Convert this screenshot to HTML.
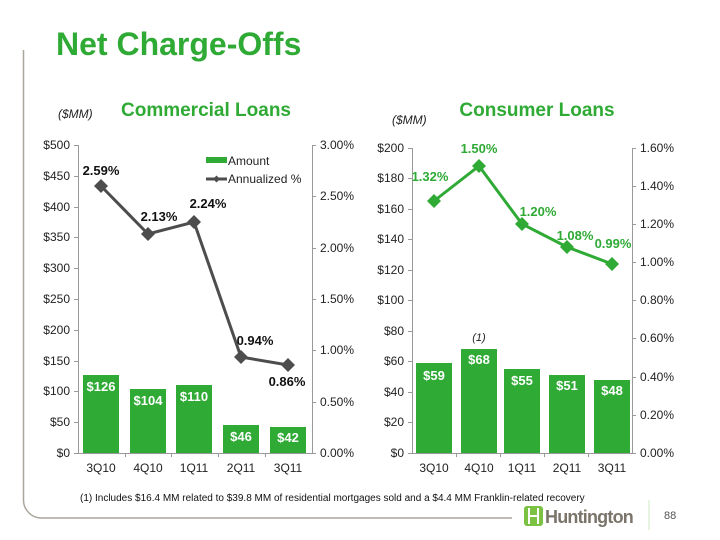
<!DOCTYPE html>
<html><head><style>
body{margin:0;width:720px;height:540px;background:#fff;overflow:hidden}
svg{display:block;font-family:"Liberation Sans",Arial,sans-serif}
</style></head><body>
<svg width="720" height="540" viewBox="0 0 720 540">
<path d="M23.5 50 V500 a18 18 0 0 0 18 18 H512" fill="none" stroke="#aaa69c" stroke-width="1.5"/>
<text x="56" y="55" font-size="32" font-weight="bold" fill="#2eaa35">Net Charge-Offs</text>
<text x="58" y="118" font-size="12" font-style="italic" fill="#222">($MM)</text>
<text x="206" y="116" font-size="19" font-weight="bold" fill="#2eaa35" text-anchor="middle">Commercial Loans</text>
<text x="392" y="124" font-size="12" font-style="italic" fill="#222">($MM)</text>
<text x="537" y="116" font-size="19" font-weight="bold" fill="#2eaa35" text-anchor="middle">Consumer Loans</text>

<g stroke="#999" stroke-width="1" fill="none">
<path d="M78.5 145 V453.5 H312.5 V145"/>
<path d="M74 145.5h4M74 176.5h4M74 207.5h4M74 237.5h4M74 268.5h4M74 299.5h4M74 330.5h4M74 361.5h4M74 391.5h4M74 422.5h4M74 453.5h4"/>
<path d="M312 145.5h4M312 196.5h4M312 248.5h4M312 299.5h4M312 350.5h4M312 402.5h4M312 453.5h4"/>
<path d="M125.5 453v4M171.5 453v4M218.5 453v4M265.5 453v4"/>
</g>
<g font-size="12" fill="#222" text-anchor="end">
<text x="70" y="149">$500</text><text x="70" y="180">$450</text><text x="70" y="211">$400</text><text x="70" y="241">$350</text><text x="70" y="272">$300</text><text x="70" y="303">$250</text><text x="70" y="334">$200</text><text x="70" y="365">$150</text><text x="70" y="395">$100</text><text x="70" y="426">$50</text><text x="70" y="457">$0</text>
</g>
<g font-size="12" fill="#222">
<text x="320" y="149">3.00%</text><text x="320" y="200">2.50%</text><text x="320" y="252">2.00%</text><text x="320" y="303">1.50%</text><text x="320" y="354">1.00%</text><text x="320" y="406">0.50%</text><text x="320" y="457">0.00%</text>
</g>
<g font-size="12" fill="#222" text-anchor="middle">
<text x="101" y="472">3Q10</text><text x="148" y="472">4Q10</text><text x="194" y="472">1Q11</text><text x="241" y="472">2Q11</text><text x="288" y="472">3Q11</text>
</g>
<g fill="#2eaa35">
<rect x="83" y="375" width="36" height="78"/><rect x="130" y="389" width="36" height="64"/><rect x="176" y="385" width="36" height="68"/><rect x="223" y="425" width="36" height="28"/><rect x="270" y="427" width="36" height="26"/>
</g>
<g font-size="13" font-weight="bold" fill="#fff" text-anchor="middle">
<text x="101" y="391">$126</text><text x="148" y="405">$104</text><text x="194" y="401">$110</text><text x="241" y="441">$46</text><text x="288" y="442">$42</text>
</g>
<polyline points="101,186 148,234 194,222 241,357 288,365" fill="none" stroke="#4d4d4d" stroke-width="3"/>
<g fill="#4d4d4d">
<path d="M101 179l7 7-7 7-7-7z"/><path d="M148 227l7 7-7 7-7-7z"/><path d="M194 215l7 7-7 7-7-7z"/><path d="M241 350l7 7-7 7-7-7z"/><path d="M288 358l7 7-7 7-7-7z"/>
</g>
<g font-size="13" font-weight="bold" fill="#111" text-anchor="middle">
<text x="101" y="175">2.59%</text><text x="159" y="221">2.13%</text><text x="208" y="208">2.24%</text><text x="255" y="345">0.94%</text><text x="287" y="386">0.86%</text>
</g>
<rect x="206" y="157" width="21" height="6" fill="#2eaa35"/>
<text x="228" y="165" font-size="12" fill="#222">Amount</text>
<line x1="206" y1="179" x2="227" y2="179" stroke="#4d4d4d" stroke-width="3"/>
<path d="M216.5 175.5l3.5 3.5-3.5 3.5-3.5-3.5z" fill="#4d4d4d"/>
<text x="228" y="183" font-size="12" fill="#222">Annualized  %</text>

<g stroke="#999" stroke-width="1" fill="none">
<path d="M412.5 148 V453.5 H632.5 V148"/>
<path d="M408 148.5h4M408 178.5h4M408 209.5h4M408 239.5h4M408 270.5h4M408 300.5h4M408 331.5h4M408 361.5h4M408 392.5h4M408 422.5h4M408 453.5h4"/>
<path d="M632 148.5h4M632 186.5h4M632 224.5h4M632 262.5h4M632 300.5h4M632 338.5h4M632 377.5h4M632 415.5h4M632 453.5h4"/>
<path d="M456.5 453v4M500.5 453v4M544.5 453v4M588.5 453v4"/>
</g>
<g font-size="12" fill="#222" text-anchor="end">
<text x="404" y="152">$200</text><text x="404" y="182">$180</text><text x="404" y="213">$160</text><text x="404" y="243">$140</text><text x="404" y="274">$120</text><text x="404" y="304">$100</text><text x="404" y="335">$80</text><text x="404" y="365">$60</text><text x="404" y="396">$40</text><text x="404" y="426">$20</text><text x="404" y="457">$0</text>
</g>
<g font-size="12" fill="#222">
<text x="640" y="152">1.60%</text><text x="640" y="190">1.40%</text><text x="640" y="228">1.20%</text><text x="640" y="266">1.00%</text><text x="640" y="304">0.80%</text><text x="640" y="342">0.60%</text><text x="640" y="381">0.40%</text><text x="640" y="419">0.20%</text><text x="640" y="457">0.00%</text>
</g>
<g font-size="12" fill="#222" text-anchor="middle">
<text x="434" y="472">3Q10</text><text x="479" y="472">4Q10</text><text x="522" y="472">1Q11</text><text x="567" y="472">2Q11</text><text x="612" y="472">3Q11</text>
</g>
<g fill="#2eaa35">
<rect x="416" y="363" width="36" height="90"/><rect x="461" y="349" width="36" height="104"/><rect x="504" y="369" width="36" height="84"/><rect x="549" y="375" width="36" height="78"/><rect x="594" y="380" width="36" height="73"/>
</g>
<g font-size="13" font-weight="bold" fill="#fff" text-anchor="middle">
<text x="434" y="380">$59</text><text x="479" y="364">$68</text><text x="522" y="385">$55</text><text x="567" y="390">$51</text><text x="612" y="395">$48</text>
</g>
<text x="479" y="341" font-size="11" font-style="italic" fill="#222" text-anchor="middle">(1)</text>
<polyline points="434,201 479,166 522,224 567,247 612,264" fill="none" stroke="#2eaa35" stroke-width="3"/>
<g fill="#2eaa35">
<path d="M434 194l7 7-7 7-7-7z"/><path d="M479 159l7 7-7 7-7-7z"/><path d="M522 217l7 7-7 7-7-7z"/><path d="M567 240l7 7-7 7-7-7z"/><path d="M612 257l7 7-7 7-7-7z"/>
</g>
<g font-size="13" font-weight="bold" fill="#2eaa35" text-anchor="middle">
<text x="430" y="181">1.32%</text><text x="479" y="153">1.50%</text><text x="538" y="216">1.20%</text><text x="575" y="240">1.08%</text><text x="613" y="248">0.99%</text>
</g>

<text x="80" y="501" font-size="10" fill="#111">(1)   Includes $16.4 MM related to $39.8 MM of residential mortgages sold and a $4.4 MM Franklin-related recovery</text>
<g transform="translate(524,506)">
<rect x="0" y="0" width="19" height="20" rx="3" fill="#7cc242"/>
<path d="M5 2v16M14 2v16M5 10h9" stroke="#fff" stroke-width="2"/>
</g>
<text x="545" y="523" font-size="18" font-weight="bold" fill="#7a746a" letter-spacing="-0.8">Huntington</text>
<line x1="649" y1="500" x2="649" y2="530" stroke="#cde8c0" stroke-width="1"/>
<text x="664" y="519" font-size="11" fill="#555">88</text>
</svg>
</body></html>
